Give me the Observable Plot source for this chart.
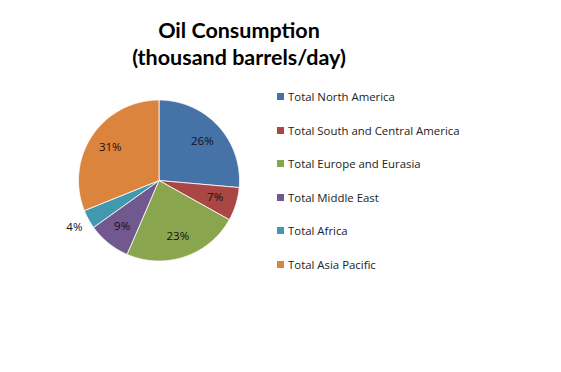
<!DOCTYPE html>
<html>
<head>
<meta charset="utf-8">
<script src="https://cdn.jsdelivr.net/npm/d3@7"></script>
<script src="https://cdn.jsdelivr.net/npm/@observablehq/plot@0.6"></script>
<style>
  body { margin: 0; background: #fff; }
  #wrap { position: relative; width: 561px; height: 372px; background: #fff; overflow: hidden; font-family: "Open Sans", sans-serif; }
  #title { position: absolute; left: 0; width: 478px; top: 17px; text-align: center; font-family: Lato, sans-serif; font-weight: bold; font-size: 21.5px; line-height: 27px; color: #000; }
  #legend { position: absolute; left: 277px; top: 89px; font-size: 11.4px; color: #222; }
  #legend .row { height: 33.5px; display: flex; align-items: flex-start; white-space: nowrap; line-height: 15px; }
  #legend .sw { width: 7px; height: 7px; margin: 4px 4px 0 0; }
  #chart { position: absolute; left: 0; top: 0; }
</style>
</head>
<body>
<div id="wrap">
  <div id="chart"></div>
  <div id="title">Oil Consumption<br>(thousand barrels/day)</div>
  <div id="legend"></div>
</div>
<script>
// Data (share of world oil consumption, %)
const regions = ["Total North America", "Total South and Central America", "Total Europe and Eurasia", "Total Middle East", "Total Africa", "Total Asia Pacific"];
const shares = [26.4, 6.7, 23.4, 8.6, 3.8, 31.1];
const colors = ["#4572A7", "#AA4643", "#89A54E", "#71588F", "#4198AF", "#DB843D"];

// layout
const W = 561, H = 372, cx = 158.5, cy = 180, R = 80.5;

const pie = d3.pie().sort(null).value(d => d.value)(regions.map((name, i) => ({name, value: shares[i]})));
const total = d3.sum(shares);

// polygon points for each slice (angles clockwise from 12 o'clock)
const pts = [];
for (const a of pie) {
  const name = a.data.name;
  pts.push({name, x: 0, y: 0});
  const n = Math.max(2, Math.ceil((a.endAngle - a.startAngle) / 0.01));
  for (let k = 0; k <= n; k++) {
    const t = a.startAngle + (a.endAngle - a.startAngle) * k / n;
    pts.push({name, x: Math.sin(t), y: Math.cos(t)});
  }
  pts.push({name, x: 0, y: 0});
}

const labels = pie.map(a => {
  const mid = (a.startAngle + a.endAngle) / 2;
  const r = a.data.name === "Total Africa" ? 1.2 : 0.73;
  return {name: a.data.name, x: r * Math.sin(mid), y: r * Math.cos(mid), label: Math.round(a.data.value / total * 100) + "%"};
});

const chart = Plot.plot({
  width: W, height: H,
  margin: 0,
  x: {domain: [-cx / R, (W - cx) / R], axis: null},
  y: {domain: [-(H - cy) / R, cy / R], axis: null},
  color: {domain: regions, range: colors},
  marks: [
    Plot.line(pts, {x: "x", y: "y", z: "name", fill: "name", stroke: "white", strokeWidth: 1, strokeOpacity: 0.8, curve: "linear"}),
    Plot.text(labels, {x: "x", y: "y", text: "label", fill: "#111", fontSize: 11.5, fontFamily: "Open Sans, sans-serif"})
  ]
});
document.getElementById("chart").appendChild(chart);

const lg = document.getElementById("legend");
regions.forEach((r, i) => {
  const row = document.createElement("div");
  row.className = "row";
  row.innerHTML = `<div class="sw" style="background:${colors[i]}"></div><span>${r}</span>`;
  lg.appendChild(row);
});
</script>
</body>
</html>
